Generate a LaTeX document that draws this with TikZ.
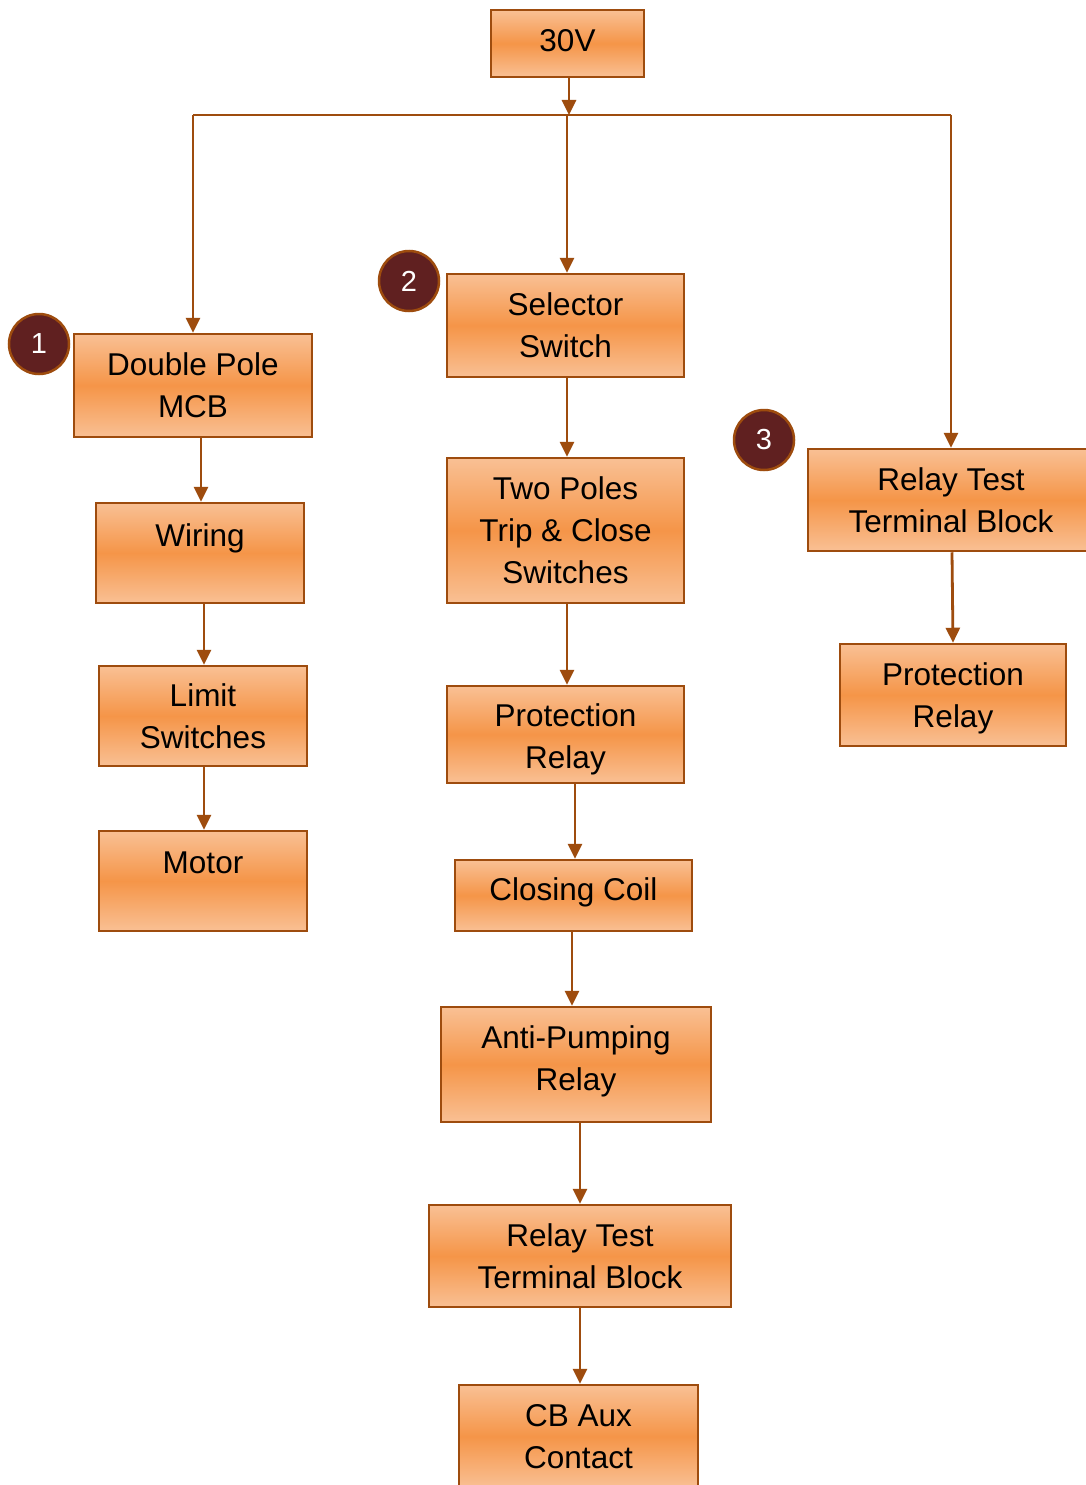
\documentclass[tikz,border=0pt]{standalone}
\usepackage{fontspec}
\setmainfont{Liberation Sans}
\usetikzlibrary{arrows.meta}
\definecolor{edge}{RGB}{158,76,14}
\definecolor{peach}{RGB}{249,192,148}
\definecolor{tangerine}{RGB}{245,149,72}
\definecolor{maroon}{RGB}{96,32,32}
\tikzset{
  stepbox/.style={draw=edge, line width=2.5pt, top color=peach, bottom color=peach,
    middle color=tangerine, align=center, inner sep=0pt, text=black,
    font=\fontsize{31.5}{42}\selectfont},
  boxtext/.style={font=\fontsize{31.5}{42}\selectfont, align=center, yshift=#1},
  badge/.style={circle, draw=edge, line width=2.5pt, fill=maroon, text=white,
    minimum size=60pt, inner sep=0pt, font=\fontsize{29}{34}\selectfont},
  flow/.style={draw=edge, line width=2.8pt, -{Triangle[length=15pt,width=14pt]}},
  bus/.style={draw=edge, line width=2.8pt}
}
\begin{document}
\begin{tikzpicture}[x=1pt, y=-1pt]
\clip (0,0) rectangle (1086,1485);
\fill[white] (0,0) rectangle (1086,1485);

% supply
\node[stepbox, minimum width=153pt, minimum height=67pt,
      label={[boxtext=3pt]center:30V}] (v30) at (567.5,43.5) {};

% branch 1
\node[stepbox, minimum width=238pt, minimum height=103pt] (mcb) at (193,385.5) {Double Pole\\MCB};
\node[stepbox, minimum width=208pt, minimum height=100pt,
      label={[boxtext=15pt]center:Wiring}] (wir) at (200,553) {};
\node[stepbox, minimum width=208pt, minimum height=100pt] (lim) at (203,716) {Limit\\Switches};
\node[stepbox, minimum width=208pt, minimum height=100pt,
      label={[boxtext=18pt]center:Motor}] (mot) at (203,881) {};

% branch 2
\node[stepbox, minimum width=237pt, minimum height=103pt] (sel) at (565.5,325.5) {Selector\\Switch};
\node[stepbox, minimum width=237pt, minimum height=145pt] (two) at (565.5,530.5) {Two Poles\\Trip \& Close\\Switches};
\node[stepbox, minimum width=237pt, minimum height=97pt,
      label={[boxtext=-5pt]center:Protection\\Relay}] (pr1) at (565.5,734.5) {};
\node[stepbox, minimum width=237pt, minimum height=71pt,
      label={[boxtext=3pt]center:Closing Coil}] (cc) at (573.5,895.5) {};
\node[stepbox, minimum width=270pt, minimum height=115pt,
      label={[boxtext=3pt]center:Anti-Pumping\\Relay}] (ap) at (576,1064.5) {};
\node[stepbox, minimum width=302pt, minimum height=102pt] (rt1) at (580,1256) {Relay Test\\Terminal Block};
\node[stepbox, minimum width=239pt, minimum height=103pt] (cb) at (578.5,1436.5) {CB Aux\\Contact};

% branch 3
\node[stepbox, minimum width=288pt, minimum height=102pt,
      label={[boxtext=0pt, xshift=-1pt]center:Relay Test\\Terminal Block}] (rt2) at (952,500) {};
\node[stepbox, minimum width=226pt, minimum height=102pt,
      label={[boxtext=-3pt]center:Protection\\Relay}] (pr2) at (953,695) {};

% branch numbers
\node[badge] (n1) at (39,344) {1};
\node[badge] (n2) at (409,281) {2};
\node[badge] (n3) at (764,440) {3};

% distribution bus
\coordinate (tap) at (569,115);
\draw[flow] ([xshift=1.5pt]v30.south) -- (tap);
\draw[bus] (mcb.north |- tap) -- ([xshift=-1pt]rt2.north |- tap);
\draw[flow] (mcb.north |- tap) -- (mcb.north);
\draw[flow] ([xshift=1.5pt]sel.north |- tap) -- ([xshift=1.5pt]sel.north);
\draw[flow] ([xshift=-1pt]rt2.north |- tap) -- ([xshift=-1pt]rt2.north);

% branch 1 chain
\draw[flow] (mcb.south -| wir.north) ++(1pt,0) -- ([xshift=1pt]wir.north);
\draw[flow] ([xshift=1pt]wir.south -| lim.north) -- ([xshift=1pt]lim.north);
\draw[flow] ([xshift=1pt]lim.south) -- ([xshift=1pt]mot.north);

% branch 2 chain
\draw[flow] ([xshift=1.5pt]sel.south) -- ([xshift=1.5pt]two.north);
\draw[flow] ([xshift=1.5pt]two.south) -- ([xshift=1.5pt]pr1.north);
\draw[flow] (pr1.south -| cc.north) ++(1.5pt,0) -- ([xshift=1.5pt]cc.north);
\draw[flow] ([xshift=-1.5pt]cc.south) -- ([xshift=-4pt]ap.north);
\draw[flow] (ap.south -| rt1.north) -- (rt1.north);
\draw[flow] (rt1.south) -- ([xshift=1.5pt]cb.north);

% branch 3 chain
\draw[flow] (rt2.south) -- (pr2.north);
\end{tikzpicture}
\end{document}
